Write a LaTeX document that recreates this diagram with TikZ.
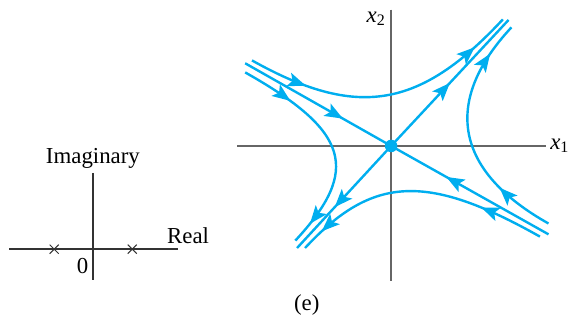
\documentclass[tikz,border=0pt]{standalone}
\usepackage{fontspec}
\setmainfont{Liberation Serif}
\usetikzlibrary{arrows.meta,decorations.markings,shapes.misc}
\definecolor{ctray}{HTML}{00AEEF}
\definecolor{ceje}{HTML}{666666}
\definecolor{cejeb}{HTML}{333333}
\tikzset{
  eje/.style={draw=ceje,line width=1pt},
  ejeb/.style={draw=cejeb,line width=0.7pt},
  tray/.style={color=ctray,line width=1.2pt},
  marca/.style={cross out,draw=cejeb,line width=0.5pt,minimum size=4pt,inner sep=0pt},
  et/.style={font=\fontsize{11.4}{13}\selectfont,inner sep=1pt},
  flecha/.style={postaction={decorate},decoration={markings,
      mark=at position #1 with {\arrow{>}}}},
  flechas/.style 2 args={postaction={decorate},decoration={markings,
      mark=at position #1 with {\arrow{>}},
      mark=at position #2 with {\arrow{>}}}},
}
\begin{document}
\begin{tikzpicture}[x=1cm,y=1cm,>={Stealth[length=9pt,width=7pt,inset=2pt]}]
\useasboundingbox (-6.86,-3.16) rectangle (3.19,2.56);

% plano s
\draw[ejeb] (-6.70,-1.81) -- (-3.74,-1.81);
\draw[ejeb] (-5.23,-0.47) -- (-5.23,-2.35);
\node[marca] (p1) at (-5.91,-1.81) {};
\node[marca] (p2) at (-4.54,-1.81) {};
\node[et] (im) at (-5.23,-0.22) {Imaginary};
\node[et] (re) at (-3.56,-1.58) {Real};
\node[et] (cero) at (-5.41,-2.11) {0};

% plano de fase
\coordinate (O) at (0,0);
\draw[eje] (-2.70,0) -- (2.72,0);
\draw[eje] (0,2.39) -- (0,-2.37);
\node[et] (x1) at (2.96,0) {\textit{x}\textsubscript{1}};
\node[et] (x2) at (-0.26,2.23) {\textit{x}\textsubscript{2}};

% separatrices
\draw[tray,flecha=0.67] (-2.56,1.45) -- (O);
\draw[tray,flecha=0.65] (2.76,-1.55) -- (O);
\draw[tray,flecha=0.50] (O) -- (2.06,2.21);
\draw[tray,flecha=0.60] (O) -- (-1.65,-1.79);

% trayectorias
\draw[tray,flechas={0.21}{0.86}] (-2.44,1.50) .. controls (-0.60,0.47) and (0.50,0.65) .. (1.96,2.22);
\draw[tray,flechas={0.24}{0.90}] (-2.56,1.29) .. controls (-0.73,0.26) and (-0.53,-0.42) .. (-1.68,-1.66);
\draw[tray,flechas={0.25}{0.86}] (2.76,-1.36) .. controls (1.12,-0.44) and (0.89,0.77) .. (2.11,2.08);
\draw[tray,flechas={0.25}{0.91}] (2.61,-1.59) .. controls (0.62,-0.47) and (-0.33,-0.52) .. (-1.51,-1.79);

\fill[ctray] (O) circle (0.11);
\node[et] (e) at (-1.48,-2.79) {(e)};

\end{tikzpicture}
\end{document}
